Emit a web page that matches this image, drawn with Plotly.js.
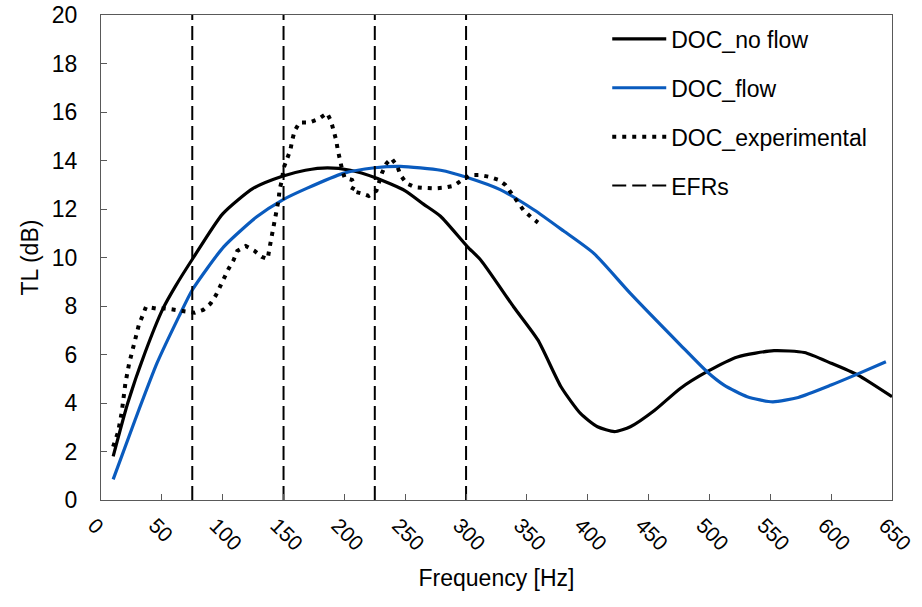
<!DOCTYPE html>
<html><head><meta charset="utf-8">
<script src="https://cdn.plot.ly/plotly-3.0.1.min.js"></script>
<style>html,body{margin:0;padding:0;background:#fff}#chart{width:922px;height:607px}</style>
</head><body><div id="chart"></div>
<script>
// DOC_no flow
const noFlowFreq = [10, 22, 36, 51, 61, 76, 100, 125, 149, 168, 186, 205, 225, 250, 265, 279, 301, 312, 339, 359, 378, 394, 408, 422, 435, 455, 476, 498, 523, 553, 578, 600, 622, 650];
const noFlowTL   = [1.8, 4.0, 6.05, 7.9, 8.8, 10.0, 11.8, 12.85, 13.35, 13.6, 13.7, 13.6, 13.3, 12.75, 12.2, 11.7, 10.45, 9.9, 7.97, 6.6, 4.67, 3.57, 3.02, 2.82, 3.02, 3.7, 4.6, 5.29, 5.9, 6.16, 6.08, 5.64, 5.15, 4.26];
// DOC_flow
const flowFreq = [10, 28, 46, 64, 75, 101, 128, 149, 169, 199, 225, 246, 279, 301, 328, 356, 380, 405, 435, 476, 498, 512, 531, 552, 573, 600, 622, 645];
const flowTL   = [0.85, 3.3, 5.64, 7.56, 8.66, 10.45, 11.68, 12.37, 12.85, 13.47, 13.7, 13.76, 13.6, 13.3, 12.8, 11.96, 11.1, 10.17, 8.52, 6.4, 5.29, 4.74, 4.26, 4.05, 4.23, 4.74, 5.2, 5.7];
// DOC_experimental
const expFreq = [10, 14, 17, 20, 23, 27, 31, 37, 45, 53, 61, 69, 77, 84, 90, 94.5, 98, 101, 105, 109, 112, 119, 126, 132, 137, 138.3, 139.7, 141.3, 143.2, 144.6, 145.9, 146.7, 148.7, 150, 152.8, 155.6, 157.2, 159.1, 163.2, 171.2, 178.8, 185.8, 189, 191.2, 193.2, 194.5, 196.1, 198, 200.2, 206.3, 208.5, 205.8, 213.7, 220, 226.3, 231, 234.6, 238.7, 243.4, 246.1, 251, 257.9, 265.8, 274, 282.3, 290, 296.9, 303.7, 311.4, 318.8, 327, 332.3, 337.2, 342.1, 347.1, 353.1, 359.1];
const expTL   = [2.2, 2.8, 3.6, 4.8, 5.6, 6.45, 7.2, 7.97, 7.9, 7.9, 7.84, 7.74, 7.72, 7.84, 8.1, 8.45, 8.82, 9.18, 9.55, 9.9, 10.27, 10.47, 10.28, 10.03, 9.94, 10.34, 10.72, 11.13, 11.55, 11.96, 12.37, 12.78, 13.2, 13.68, 14.05, 14.43, 14.85, 15.22, 15.57, 15.57, 15.71, 15.95, 15.63, 15.23, 14.85, 14.46, 14.06, 13.65, 13.29, 13.2, 12.99, 12.75, 12.65, 12.54, 12.75, 13.5, 13.88, 14.09, 13.77, 13.4, 13.06, 12.9, 12.87, 12.85, 12.88, 12.96, 13.2, 13.4, 13.4, 13.33, 13.2, 12.99, 12.65, 12.3, 11.96, 11.68, 11.44];
// EFRs
const efrFreq = [75, 150, 225, 300];

const xTickVals = [0, 50, 100, 150, 200, 250, 300, 350, 400, 450, 500, 550, 600, 650];
const yTickVals = [0, 2, 4, 6, 8, 10, 12, 14, 16, 18, 20];

const efrX = [], efrY = [];
efrFreq.forEach(f => { efrX.push(f, f, null); efrY.push(0, 20, null); });

const FONT = '"Liberation Sans", Arial, sans-serif';

const traces = [
  {x: noFlowFreq, y: noFlowTL, name: 'DOC_no flow', legendgroup: 'a', mode: 'lines',
   line: {color: '#000000', width: 3.2, shape: 'spline', smoothing: 0.6}},
  {x: flowFreq, y: flowTL, name: 'DOC_flow', legendgroup: 'b', mode: 'lines',
   line: {color: '#0A5BBE', width: 3.2, shape: 'spline', smoothing: 0.6}},
  {x: expFreq, y: expTL, name: 'DOC_experimental', legendgroup: 'c', mode: 'lines',
   line: {color: '#000000', width: 4, dash: '4px,6px'}},
  {x: efrX, y: efrY, name: 'EFRs', legendgroup: 'd', mode: 'lines',
   line: {color: '#000000', width: 2, dash: '14px,6px'}}
];

const layout = {
  width: 922, height: 607,
  margin: {l: 101, r: 30, t: 15, b: 107},
  paper_bgcolor: '#ffffff', plot_bgcolor: '#ffffff',
  font: {family: FONT, size: 22, color: '#000000'},
  showlegend: true,
  legend: {x: 0.64, y: 0.995, xanchor: 'left', yanchor: 'top', bgcolor: 'rgba(255,255,255,0)',
           font: {family: FONT, size: 23, color: '#000000'}, tracegroupgap: 16, itemwidth: 54,
           traceorder: 'grouped'},
  xaxis: {range: [0, 650.01], tickvals: xTickVals, ticktext: xTickVals.map(String), tickangle: 45,
          ticks: 'inside', ticklen: 6, tickcolor: '#595959', showline: true, linecolor: '#595959',
          linewidth: 1, mirror: true, showgrid: false, zeroline: false, ticklabeloverflow: 'allow',
          ticklabelstandoff: 4, ticklabelshift: -7,
          tickfont: {family: FONT, size: 21, color: '#000000'},
          title: {text: 'Frequency [Hz]', font: {family: FONT, size: 23, color: '#000000'}, standoff: 16}},
  yaxis: {range: [0, 20], tickvals: yTickVals, ticktext: yTickVals.map(String),
          ticks: 'inside', ticklen: 6, tickcolor: '#595959', showline: true, linecolor: '#595959',
          linewidth: 1, mirror: true, showgrid: false, zeroline: false, ticklabelstandoff: 18,
          tickfont: {family: FONT, size: 23, color: '#000000'},
          title: {text: 'TL (dB)', font: {family: FONT, size: 23, color: '#000000'}, standoff: 6}}
};

Plotly.newPlot('chart', traces, layout, {staticPlot: true, displayModeBar: false});
</script>
</body></html>
